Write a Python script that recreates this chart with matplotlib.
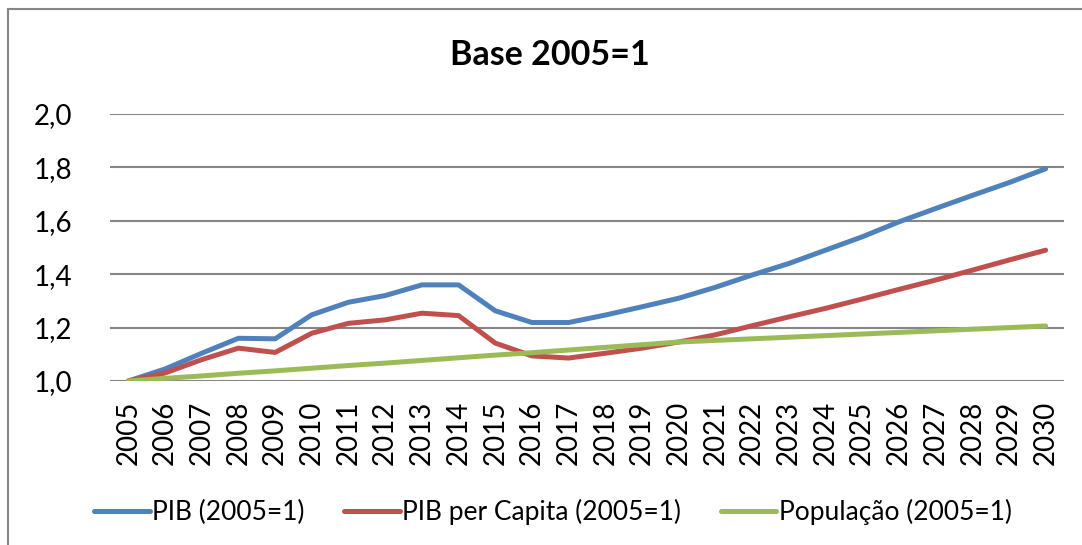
import matplotlib
matplotlib.use('Agg')
import matplotlib.pyplot as plt
from matplotlib.lines import Line2D

plt.rcParams['font.family'] = ['Lato', 'DejaVu Sans']

# data
years = [str(y) for y in range(2005, 2031)]
pib = [1.000, 1.045, 1.104, 1.160, 1.158, 1.248, 1.295, 1.320, 1.360, 1.360,
       1.263, 1.219, 1.219, 1.247, 1.278, 1.310, 1.351, 1.397, 1.440, 1.490,
       1.540, 1.596, 1.646, 1.695, 1.743, 1.795]
pib_pc = [1.000, 1.030, 1.080, 1.123, 1.107, 1.179, 1.216, 1.229, 1.254, 1.245,
          1.142, 1.094, 1.086, 1.104, 1.123, 1.146, 1.173, 1.207, 1.240, 1.272,
          1.307, 1.343, 1.378, 1.415, 1.453, 1.490]
pop = [1.000, 1.010, 1.019, 1.029, 1.038, 1.048, 1.058, 1.067, 1.077, 1.087,
       1.097, 1.106, 1.116, 1.126, 1.136, 1.146, 1.152, 1.158, 1.164, 1.170,
       1.176, 1.182, 1.188, 1.194, 1.200, 1.206]
yticks = [1.0, 1.2, 1.4, 1.6, 1.8, 2.0]
labels = ['PIB (2005=1)', 'PIB per Capita (2005=1)', 'População (2005=1)']
colors = ['#4F81BD', '#C0504D', '#9BBB59']

W, H = 1082, 545
fig = plt.figure(figsize=(W / 100, H / 100), dpi=100)
ax = fig.add_axes([110 / W, 1 - 381 / H, (1064 - 110) / W, (381 - 114) / H])

x = list(range(len(years)))
for series, lab, col in zip([pib, pib_pc, pop], labels, colors):
    ax.plot(x, series, color=col, lw=3.6, label=lab, solid_capstyle='round',
            solid_joinstyle='round')

ax.set_xlim(-0.5, len(years) - 0.5)
ax.set_ylim(1.0, 2.0)
ax.set_yticks(yticks)
ax.set_yticklabels([f'{v:.1f}'.replace('.', ',') for v in yticks], fontsize=20)
ax.set_xticks(x)
ax.set_xticklabels(years, rotation=90, fontsize=20)
ax.tick_params(axis='y', length=0, pad=27)
ax.tick_params(axis='x', length=0, pad=14)
ax.grid(axis='y', color='#868686', lw=1.5)
ax.set_axisbelow(True)
for s in ax.spines.values():
    s.set_visible(False)

fig.text(550 / W, 1 - 55 / H, 'Base 2005=1', ha='center', va='center',
         fontsize=24.5, fontweight='bold')

handles = [Line2D([], [], color=c, lw=3.6, solid_capstyle='round') for c in colors]
fig.legend(handles, labels, loc='center', bbox_to_anchor=(553 / W, 1 - 512 / H),
           ncol=3, frameon=False, fontsize=19, handlelength=2.1,
           handletextpad=0.1, columnspacing=1.5)

# chart frame (top and left edges visible)
fig.add_artist(Line2D([8 / W, 8 / W], [0, 1 - 9 / H], color='#868686', lw=1.5))
fig.add_artist(Line2D([8 / W, 1], [1 - 9 / H, 1 - 9 / H], color='#868686', lw=1.5))

fig.savefig('out.png', dpi=100)
